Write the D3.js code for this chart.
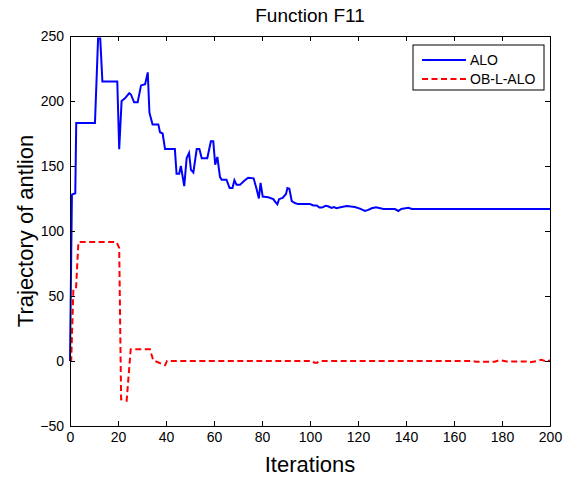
<!DOCTYPE html>
<html>
<head>
<meta charset="utf-8">
<script src="https://cdn.jsdelivr.net/npm/d3@7"></script>
<style>
  body { margin: 0; background: #fff; }
  svg { font-family: "Liberation Sans", Arial, sans-serif; }
</style>
</head>
<body>
<script>
// iteraciones y valores (puntos de quiebre)
var aloIter = [0, 0.8, 2.2, 2.6, 10.4, 11.7, 12.6, 13.5, 19.7, 20.5, 21.5, 22.9, 24.7, 25.4, 26.7, 28.2,
  29.6, 31.3, 32.4, 33.1, 34.4, 36.8, 37.5, 38.6, 39.6, 43.7, 44.4, 45.5, 46.2, 47.6, 48.6, 49.6, 50.4,
  51.4, 52.8, 53.9, 54.9, 57.2, 58.7, 59.7, 60.5, 61.4, 62.5, 63.2, 65.2, 66.5, 67.7, 68.5, 69.4, 70.8,
  72.5, 74.2, 76.5, 77.8, 78.7, 79.4, 80.3, 82.6, 84.7, 85.7, 86.4, 87.1, 88.6, 90, 90.6, 91.4, 92.4,
  93.7, 95, 100, 101.4, 102.8, 103.9, 105, 106.5, 107.5, 109, 110, 111, 113.2, 115.3, 118.7, 120.8,
  122.9, 124.3, 125.7, 127.5, 130.6, 135.4, 136.8, 138, 141, 142.4, 200];
var aloVal = [0, 128, 129, 183, 183, 248, 248, 215, 215, 163, 200, 202, 206, 205, 199, 199,
  212, 213, 222, 191, 182, 182, 176, 175, 163, 163, 144, 144, 150, 134.5, 156, 160, 147,
  145, 163, 163, 156, 156, 169, 169, 151, 157, 141.5, 139.5, 139.5, 133, 133, 139, 135.5, 135.5,
  138.5, 141, 140.5, 132, 125, 137, 126.5, 126, 124.5, 122, 120.5, 124.5, 125.5, 128.5, 133, 132.5, 123,
  121.5, 120.7, 120.7, 119.7, 119.7, 118, 118, 119.4, 119, 117.8, 118.4, 117.6, 118.4, 119.2, 118.5, 117.2,
  115.4, 116.2, 117.5, 118.2, 116.9, 116.9, 115.4, 116.9, 117.9, 116.9, 116.9];

var oblIter = [0, 0.5, 1.4, 2.5, 3.5, 19.4, 20.5, 21.3, 23.6, 25.3, 33.3, 34.7, 36.4, 39.6, 40.4,
  101, 101.8, 103, 104, 168, 169, 177, 179, 182, 190, 191.7, 194.6, 196.5, 198.6, 200];
var oblVal = [0, 0, 55, 55.6, 91.5, 91.5, 87, -29.5, -30.5, 9, 9, 0.5, -0.8, -3.3, 0,
  0, -1.3, -1.3, 0, 0, -0.5, -0.5, 0.7, -0.3, -0.3, -1, 0, 1, -0.7, 0.7];

var xTicks = [0, 20, 40, 60, 80, 100, 120, 140, 160, 180, 200];
var yTicks = [-50, 0, 50, 100, 150, 200, 250];
var seriesNames = ["ALO", "OB-L-ALO"];

var W = 565, H = 480;
var plotL = 70, plotR = 550, plotT = 36, plotB = 426;

var svg = d3.select("body").append("svg")
  .attr("width", W)
  .attr("height", H);

var x = d3.scaleLinear().domain([0, 200]).range([plotL, plotR]);
var y = d3.scaleLinear().domain([-50, 250]).range([plotB, plotT]);

// lineas
var line = d3.line()
  .x(function(d) { return x(d[0]); })
  .y(function(d) { return y(d[1]); });

svg.append("path")
  .datum(d3.zip(oblIter, oblVal))
  .attr("d", line)
  .attr("fill", "none")
  .attr("stroke", "#ff0000")
  .attr("stroke-width", 2)
  .attr("stroke-dasharray", "6,3.5");

svg.append("path")
  .datum(d3.zip(aloIter, aloVal))
  .attr("d", line)
  .attr("fill", "none")
  .attr("stroke", "#0000ff")
  .attr("stroke-width", 2);

// ejes con marcas hacia adentro (estilo caja)
function styleAxis(g) {
  g.attr("font-family", null).attr("font-size", null);
  g.selectAll("path.domain").attr("stroke", "#000");
  g.selectAll(".tick line").attr("stroke", "#000");
  g.selectAll("text").attr("fill", "#000").style("font-size", "14px");
}

svg.append("g")
  .attr("transform", "translate(0," + plotB + ")")
  .call(d3.axisBottom(x).tickValues(xTicks).tickSizeInner(-5).tickSizeOuter(0).tickPadding(6))
  .call(styleAxis);

svg.append("g")
  .attr("transform", "translate(0," + plotT + ")")
  .call(d3.axisTop(x).tickValues(xTicks).tickSizeInner(-5).tickSizeOuter(0).tickFormat(""))
  .call(styleAxis);

svg.append("g")
  .attr("transform", "translate(" + plotL + ",0)")
  .call(d3.axisLeft(y).tickValues(yTicks).tickSizeInner(-5).tickSizeOuter(0).tickPadding(6))
  .call(styleAxis);

svg.append("g")
  .attr("transform", "translate(" + plotR + ",0)")
  .call(d3.axisRight(y).tickValues(yTicks).tickSizeInner(-5).tickSizeOuter(0).tickFormat(""))
  .call(styleAxis);

// titulo y etiquetas
svg.append("text")
  .attr("x", (plotL + plotR) / 2)
  .attr("y", 22)
  .attr("text-anchor", "middle")
  .style("font-size", "19px")
  .text("Function F11");

svg.append("text")
  .attr("x", (plotL + plotR) / 2)
  .attr("y", 472)
  .attr("text-anchor", "middle")
  .style("font-size", "22px")
  .text("Iterations");

svg.append("text")
  .attr("transform", "translate(33," + (plotT + plotB) / 2 + ") rotate(-90)")
  .attr("text-anchor", "middle")
  .style("font-size", "22px")
  .text("Trajectory of antlion");

// leyenda
var legend = svg.append("g");
legend.append("rect")
  .attr("x", 413).attr("y", 45)
  .attr("width", 131).attr("height", 45)
  .attr("fill", "#fff")
  .attr("stroke", "#000");

var legColors = ["#0000ff", "#ff0000"];
var legDash = [null, "6,3.5"];
seriesNames.forEach(function(name, i) {
  var ly = 60 + i * 19;
  legend.append("line")
    .attr("x1", 422).attr("x2", 466)
    .attr("y1", ly).attr("y2", ly)
    .attr("stroke", legColors[i])
    .attr("stroke-width", 2)
    .attr("stroke-dasharray", legDash[i]);
  legend.append("text")
    .attr("x", 470).attr("y", ly + 5)
    .style("font-size", "14px")
    .text(name);
});
</script>
</body>
</html>
